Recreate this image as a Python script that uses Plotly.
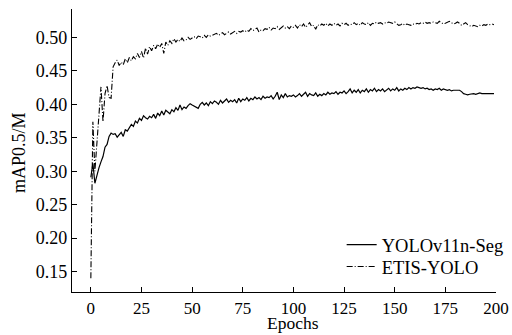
import plotly.graph_objects as go

epochs = list(range(200))

yolov11n_seg = [
    0.291, 0.312, 0.282, 0.296, 0.305, 0.314, 0.322, 0.336, 0.340, 0.352,
    0.357, 0.355, 0.356, 0.351, 0.354, 0.358, 0.352, 0.362, 0.360, 0.366,
    0.370, 0.367, 0.375, 0.372, 0.379, 0.376, 0.383, 0.380, 0.378, 0.382,
    0.380, 0.385, 0.379, 0.387, 0.383, 0.390, 0.384, 0.391, 0.388, 0.386,
    0.392, 0.389, 0.395, 0.391, 0.399, 0.392, 0.396, 0.394, 0.398, 0.401,
    0.399, 0.397, 0.396, 0.394, 0.400, 0.403, 0.399, 0.402, 0.398, 0.404,
    0.401, 0.405, 0.403, 0.400, 0.406, 0.402, 0.405, 0.408, 0.403, 0.406,
    0.404, 0.407, 0.402, 0.409, 0.404, 0.408, 0.406, 0.410, 0.405, 0.409,
    0.407, 0.411, 0.408, 0.410, 0.407, 0.412, 0.409, 0.411, 0.410, 0.413,
    0.408, 0.412, 0.418, 0.407, 0.414, 0.410, 0.416, 0.411, 0.413, 0.412,
    0.414, 0.411, 0.413, 0.416, 0.412, 0.415, 0.418, 0.412, 0.416, 0.414,
    0.413, 0.417, 0.412, 0.415, 0.413, 0.416, 0.414, 0.418, 0.415, 0.417,
    0.416, 0.419, 0.415, 0.418, 0.417, 0.420, 0.416, 0.419, 0.423, 0.417,
    0.421, 0.418, 0.422, 0.417, 0.421, 0.419, 0.423, 0.418, 0.422, 0.420,
    0.424, 0.419, 0.422, 0.420, 0.423, 0.419, 0.421, 0.424, 0.420, 0.423,
    0.421, 0.425, 0.420, 0.423, 0.421, 0.424, 0.422, 0.425, 0.423, 0.425,
    0.424, 0.426, 0.425, 0.424, 0.425, 0.423, 0.424, 0.422, 0.423, 0.421,
    0.423, 0.422, 0.424, 0.421, 0.423, 0.422, 0.421, 0.422, 0.420, 0.421,
    0.421, 0.420, 0.421, 0.419, 0.416, 0.415, 0.414, 0.415, 0.416, 0.416,
    0.415, 0.416, 0.417, 0.416, 0.416, 0.417, 0.416, 0.416, 0.417, 0.416,
]

etis_yolo = [
    0.140, 0.374, 0.300, 0.345, 0.395, 0.426, 0.374, 0.416, 0.428, 0.410,
    0.409, 0.456, 0.462, 0.466, 0.458, 0.463, 0.459, 0.468, 0.462, 0.470,
    0.465, 0.471, 0.468, 0.476, 0.470, 0.479, 0.469, 0.484, 0.475, 0.486,
    0.480, 0.488, 0.483, 0.490, 0.485, 0.491, 0.476, 0.493, 0.488, 0.495,
    0.491, 0.498, 0.493, 0.497, 0.494, 0.499, 0.495, 0.496, 0.500, 0.497,
    0.499, 0.501, 0.498, 0.502, 0.501, 0.499, 0.503, 0.500, 0.504, 0.502,
    0.503, 0.505, 0.506, 0.503, 0.505, 0.507, 0.504, 0.506, 0.508, 0.505,
    0.507, 0.509, 0.506, 0.509, 0.508, 0.510, 0.508, 0.511, 0.509, 0.513,
    0.510, 0.512, 0.514, 0.508, 0.511, 0.510, 0.513, 0.512, 0.515, 0.511,
    0.514, 0.513, 0.516, 0.512, 0.515, 0.517, 0.514, 0.516, 0.513, 0.517,
    0.515, 0.518, 0.514, 0.519, 0.516, 0.520, 0.515, 0.519, 0.522, 0.516,
    0.518, 0.512, 0.519, 0.517, 0.520, 0.518, 0.521, 0.517, 0.520, 0.518,
    0.521, 0.518, 0.520, 0.517, 0.521, 0.519, 0.521, 0.518, 0.520, 0.519,
    0.522, 0.519, 0.521, 0.518, 0.522, 0.520, 0.519, 0.522, 0.518, 0.521,
    0.520, 0.523, 0.521, 0.522, 0.520, 0.522, 0.521, 0.523, 0.522, 0.521,
    0.523, 0.520, 0.518, 0.519, 0.521, 0.518, 0.520, 0.519, 0.518, 0.520,
    0.519, 0.521, 0.520, 0.522, 0.521, 0.523, 0.521, 0.522, 0.521, 0.523,
    0.522, 0.521, 0.524, 0.522, 0.520, 0.521, 0.523, 0.524, 0.522, 0.520,
    0.521, 0.523, 0.521, 0.518, 0.520, 0.522, 0.519, 0.517, 0.516, 0.518,
    0.517, 0.516, 0.518, 0.517, 0.519, 0.518, 0.520, 0.519, 0.520, 0.519,
]

x_ticks = [0, 25, 50, 75, 100, 125, 150, 175, 200]
y_ticks = [0.15, 0.20, 0.25, 0.30, 0.35, 0.40, 0.45, 0.50]

font_family = "Liberation Serif, Times New Roman, serif"
FS = 18

fig = go.Figure()
fig.add_trace(go.Scatter(
    x=epochs, y=yolov11n_seg, mode="lines", name="YOLOv11n-Seg",
    line=dict(color="black", width=1.2), legend="legend",
))
fig.add_trace(go.Scatter(
    x=epochs, y=etis_yolo, mode="lines", name="ETIS-YOLO",
    line=dict(color="black", width=1.1, dash="6px,2px,1px,2px"),
    legend="legend2",
))

leg_common = dict(
    xanchor="left", yanchor="middle", bgcolor="rgba(0,0,0,0)",
    font=dict(family=font_family, size=FS + 0.5, color="black"),
    itemwidth=30, borderwidth=0,
)

fig.update_layout(
    width=512, height=335,
    margin=dict(l=72, r=16, t=9, b=43, autoexpand=False),
    paper_bgcolor="white", plot_bgcolor="white",
    font=dict(family=font_family, size=FS, color="black"),
    showlegend=True,
    legend=dict(x=0.636, y=(292 - 245) / 283, **leg_common),
    legend2=dict(x=0.636, y=(292 - 267) / 283, **leg_common),
    xaxis=dict(
        range=[-9.3, 200], tickmode="array", tickvals=x_ticks,
        ticktext=[str(v) for v in x_ticks],
        ticks="inside", ticklen=5, tickwidth=1.2, tickcolor="black",
        showline=True, linecolor="black", linewidth=1.3,
        showgrid=False, zeroline=False, automargin=False,
        tickfont=dict(family=font_family, size=17),
    ),
    yaxis=dict(
        range=[0.1196, 0.5424], tickmode="array", tickvals=y_ticks,
        ticktext=["%.2f" % v for v in y_ticks],
        ticks="inside", ticklen=5, tickwidth=1.2, tickcolor="black",
        showline=True, linecolor="black", linewidth=1.3,
        showgrid=False, zeroline=False, automargin=False,
        tickfont=dict(family=font_family, size=FS),
    ),
    annotations=[
        dict(text="Epochs", xref="paper", yref="paper",
             x=(293 - 72) / 424, y=-43 / 283, xanchor="center", yanchor="bottom",
             yshift=0, showarrow=False,
             font=dict(family=font_family, size=17.5, color="black")),
        dict(text="mAP0.5/M", xref="paper", yref="paper",
             x=0, y=(292 - 153) / 283, xanchor="center", yanchor="middle",
             xshift=-53, textangle=-90, showarrow=False,
             font=dict(family=font_family, size=FS, color="black")),
    ],
)

fig.write_html(
    "out.html",
    config={"displayModeBar": False},
    post_script="document.body.style.margin='0';document.body.style.padding='0';document.body.style.overflow='hidden';",
)
